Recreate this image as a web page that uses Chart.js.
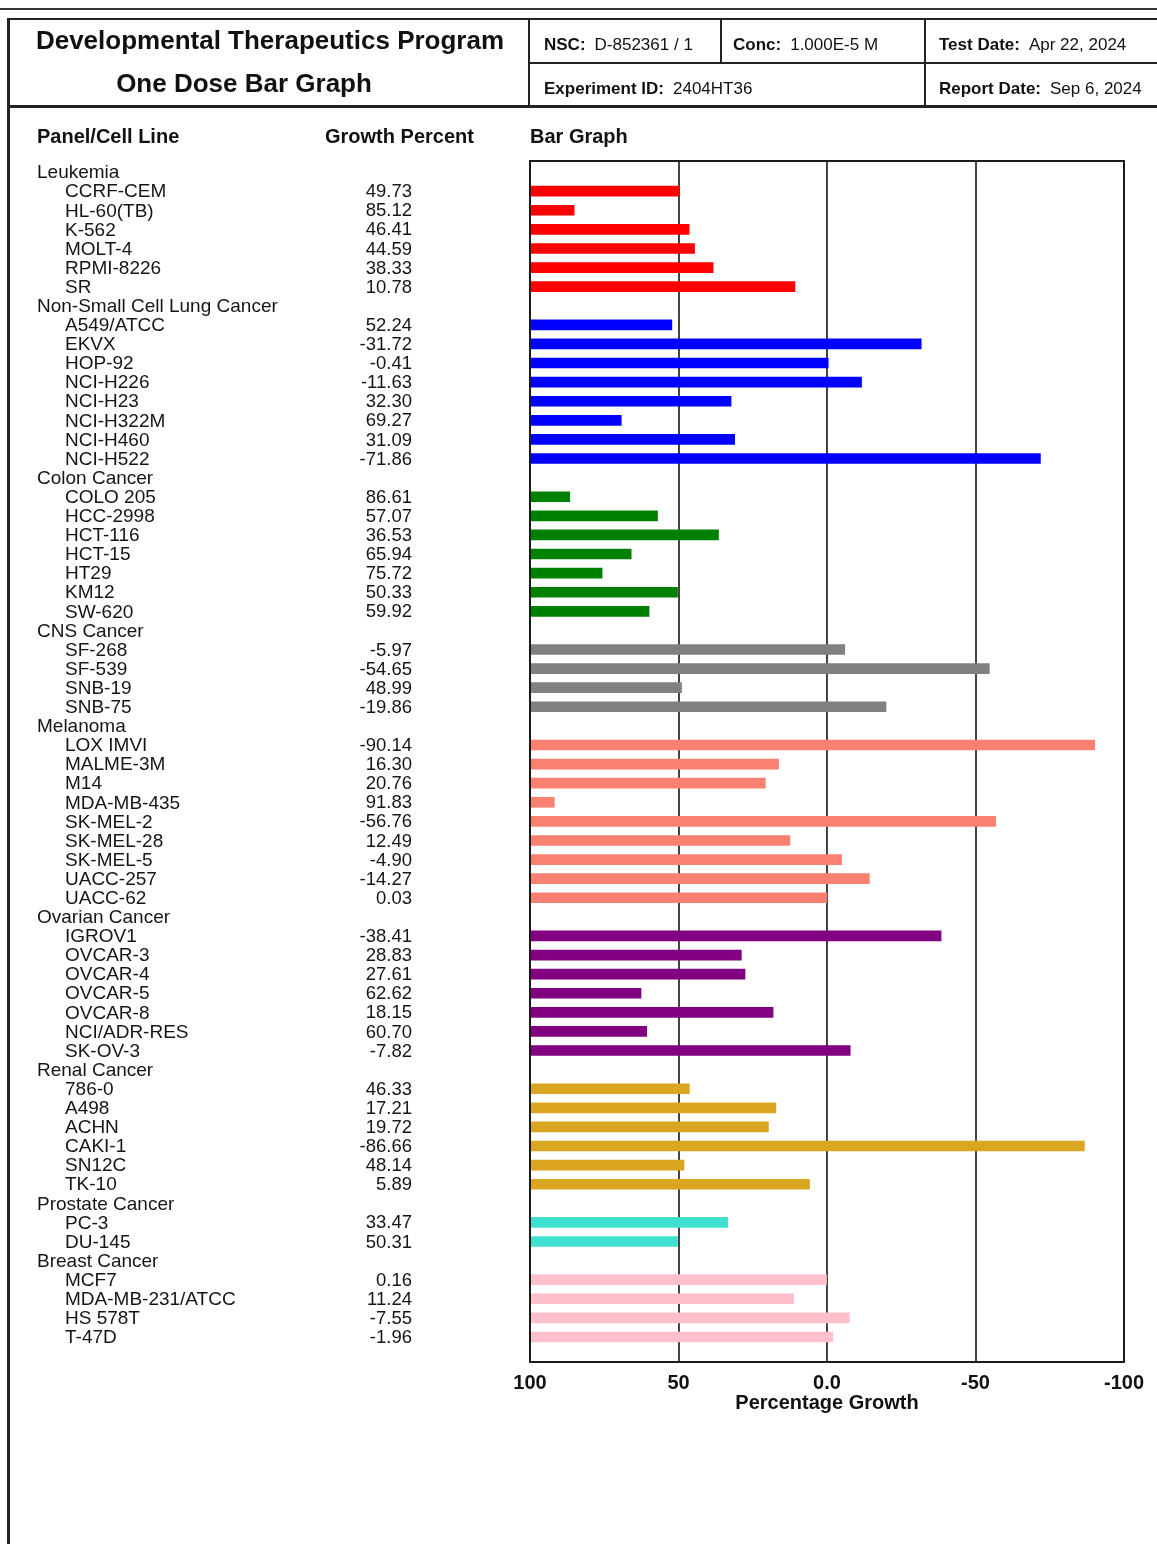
<!DOCTYPE html>
<html>
<head>
<meta charset="utf-8">
<title>One Dose Bar Graph</title>
<script src="https://cdn.jsdelivr.net/npm/chart.js@4.4.1/dist/chart.umd.min.js"></script>
<style>
  html, body { margin: 0; padding: 0; background: #fff; }
  body { width: 1157px; height: 1544px; position: relative; overflow: hidden;
         font-family: "Liberation Sans", Arial, Helvetica, sans-serif; color: #111; }
  #chart { position: absolute; left: 0; top: 0; }
  .ln { position: absolute; background: #222; }
  .t { position: absolute; white-space: nowrap; line-height: 1; transform: translateY(-50%); }
  .c { text-align: center; }
  .b { font-weight: bold; }
  .info { font-size: 17px; }
  .info b { margin-right: 9px; }
  .hdr { font-size: 20px; font-weight: bold; }
</style>
</head>
<body>
<canvas id="chart" width="1157" height="1544"></canvas>

<!-- report frame -->
<div class="ln" style="left:0;top:8px;width:1157px;height:2px;background:#333"></div>
<div class="ln" style="left:7px;top:18px;width:1150px;height:2px"></div>
<div class="ln" style="left:7px;top:105px;width:1150px;height:3px"></div>
<div class="ln" style="left:7px;top:18px;width:3px;height:1526px"></div>
<div class="ln" style="left:528px;top:18px;width:2px;height:89px"></div>
<div class="ln" style="left:924px;top:18px;width:2px;height:89px"></div>
<div class="ln" style="left:720px;top:18px;width:2px;height:45px"></div>
<div class="ln" style="left:528px;top:62px;width:629px;height:2px"></div>

<!-- header -->
<div class="t c b" style="left:-30px;width:600px;top:40px;font-size:26px">Developmental Therapeutics Program</div>
<div class="t c b" style="left:-56px;width:600px;top:83px;font-size:26px">One Dose Bar Graph</div>
<div class="t info" style="left:544px;top:44px"><b>NSC:</b>D-852361 / 1</div>
<div class="t info" style="left:733px;top:44px"><b>Conc:</b>1.000E-5 M</div>
<div class="t info" style="left:939px;top:44px"><b>Test Date:</b>Apr 22, 2024</div>
<div class="t info" style="left:544px;top:88px"><b>Experiment ID:</b>2404HT36</div>
<div class="t info" style="left:939px;top:88px"><b>Report Date:</b>Sep 6, 2024</div>

<!-- column headings -->
<div class="t hdr" style="left:37px;top:136px">Panel/Cell Line</div>
<div class="t hdr" style="left:325px;top:136px">Growth Percent</div>
<div class="t hdr" style="left:530px;top:136px">Bar Graph</div>

<script>
// NCI-60 panels, their cell lines and one-dose growth percent values
const panelNames = ['Leukemia', 'Non-Small Cell Lung Cancer', 'Colon Cancer', 'CNS Cancer',
  'Melanoma', 'Ovarian Cancer', 'Renal Cancer', 'Prostate Cancer', 'Breast Cancer'];

const leukemiaLines = ['CCRF-CEM', 'HL-60(TB)', 'K-562', 'MOLT-4', 'RPMI-8226', 'SR'];
const leukemiaGrowth = [49.73, 85.12, 46.41, 44.59, 38.33, 10.78];

const nsclcLines = ['A549/ATCC', 'EKVX', 'HOP-92', 'NCI-H226', 'NCI-H23', 'NCI-H322M', 'NCI-H460', 'NCI-H522'];
const nsclcGrowth = [52.24, -31.72, -0.41, -11.63, 32.30, 69.27, 31.09, -71.86];

const colonLines = ['COLO 205', 'HCC-2998', 'HCT-116', 'HCT-15', 'HT29', 'KM12', 'SW-620'];
const colonGrowth = [86.61, 57.07, 36.53, 65.94, 75.72, 50.33, 59.92];

const cnsLines = ['SF-268', 'SF-539', 'SNB-19', 'SNB-75'];
const cnsGrowth = [-5.97, -54.65, 48.99, -19.86];

const melanomaLines = ['LOX IMVI', 'MALME-3M', 'M14', 'MDA-MB-435', 'SK-MEL-2', 'SK-MEL-28', 'SK-MEL-5', 'UACC-257', 'UACC-62'];
const melanomaGrowth = [-90.14, 16.30, 20.76, 91.83, -56.76, 12.49, -4.90, -14.27, 0.03];

const ovarianLines = ['IGROV1', 'OVCAR-3', 'OVCAR-4', 'OVCAR-5', 'OVCAR-8', 'NCI/ADR-RES', 'SK-OV-3'];
const ovarianGrowth = [-38.41, 28.83, 27.61, 62.62, 18.15, 60.70, -7.82];

const renalLines = ['786-0', 'A498', 'ACHN', 'CAKI-1', 'SN12C', 'TK-10'];
const renalGrowth = [46.33, 17.21, 19.72, -86.66, 48.14, 5.89];

const prostateLines = ['PC-3', 'DU-145'];
const prostateGrowth = [33.47, 50.31];

const breastLines = ['MCF7', 'MDA-MB-231/ATCC', 'HS 578T', 'T-47D'];
const breastGrowth = [0.16, 11.24, -7.55, -1.96];

const xTickValues = [100, 50, 0, -50, -100];

// bars start from 100 (no growth inhibition) and run to the measured value
const barBase = 100;

const panelLines = [leukemiaLines, nsclcLines, colonLines, cnsLines, melanomaLines,
  ovarianLines, renalLines, prostateLines, breastLines];
const panelGrowth = [leukemiaGrowth, nsclcGrowth, colonGrowth, cnsGrowth, melanomaGrowth,
  ovarianGrowth, renalGrowth, prostateGrowth, breastGrowth];
const panelColors = ['#ff0000', '#0000ff', '#008000', '#808080', '#fa8072',
  '#800080', '#daa520', '#40e0d0', '#ffc0cb'];

// one row per panel heading and per cell line; bars only on cell-line rows
const rows = [];
const barData = [];
const barColors = [];
panelNames.forEach((name, p) => {
  rows.push({ label: name, heading: true });
  panelLines[p].forEach((line, k) => {
    const v = panelGrowth[p][k];
    barData.push({ y: rows.length, x: [barBase, v] });
    barColors.push(panelColors[p]);
    rows.push({ label: line, value: v, heading: false });
  });
});

const FONT = '"Liberation Sans", Arial, Helvetica, sans-serif';

// left-hand table: panel / cell line names and growth percent column
const tablePlugin = {
  id: 'panelTable',
  afterDraw(chart) {
    const ctx = chart.ctx;
    const ys = chart.scales.y;
    ctx.save();
    ctx.fillStyle = '#151515';
    ctx.textBaseline = 'middle';
    rows.forEach((r, i) => {
      const py = ys.getPixelForValue(i) + 1;
      ctx.textAlign = 'left';
      ctx.font = '19px ' + FONT;
      if (r.heading) {
        ctx.fillText(r.label, 37, py);
      } else {
        ctx.fillText(r.label, 65, py);
        ctx.textAlign = 'right';
        ctx.font = '18.5px ' + FONT;
        ctx.fillText(r.value.toFixed(2), 412, py);
      }
    });
    ctx.restore();
  }
};

// box around the plotting area
const framePlugin = {
  id: 'plotFrame',
  afterDraw(chart) {
    const { left, right, top, bottom } = chart.chartArea;
    const ctx = chart.ctx;
    ctx.save();
    ctx.strokeStyle = '#1a1a1a';
    ctx.lineWidth = 2;
    ctx.strokeRect(left, top, right - left, bottom - top);
    ctx.restore();
  }
};

new Chart(document.getElementById('chart'), {
  type: 'bar',
  data: {
    datasets: [{
      data: barData,
      backgroundColor: barColors,
      borderWidth: 0,
      barThickness: 10
    }]
  },
  options: {
    indexAxis: 'y',
    responsive: false,
    devicePixelRatio: 1,
    animation: false,
    layout: { padding: { left: 530, right: 33, top: 161, bottom: 122 } },
    plugins: { legend: { display: false }, tooltip: { enabled: false } },
    scales: {
      y: {
        type: 'linear',
        reverse: true,
        offset: false,
        min: -0.58,
        max: 62.31,
        display: false
      },
      x: {
        type: 'linear',
        reverse: true,
        min: -100,
        max: 100,
        z: 1,
        afterFit(scale) { scale.height = 60; },
        afterBuildTicks(scale) { scale.ticks = xTickValues.map(v => ({ value: v })); },
        grid: { color: '#444', lineWidth: 2, drawTicks: false },
        border: { display: true, color: '#1a1a1a', width: 2 },
        ticks: {
          padding: 9,
          color: '#111',
          maxRotation: 0,
          autoSkip: false,
          font: { family: FONT, size: 20, weight: 'bold' },
          callback: v => (v === 0 ? '0.0' : String(v))
        },
        title: {
          display: true,
          text: 'Percentage Growth',
          color: '#111',
          padding: { top: 0, bottom: 7 },
          font: { family: FONT, size: 20, weight: 'bold' }
        }
      }
    }
  },
  plugins: [tablePlugin, framePlugin]
});
</script>
</body>
</html>
